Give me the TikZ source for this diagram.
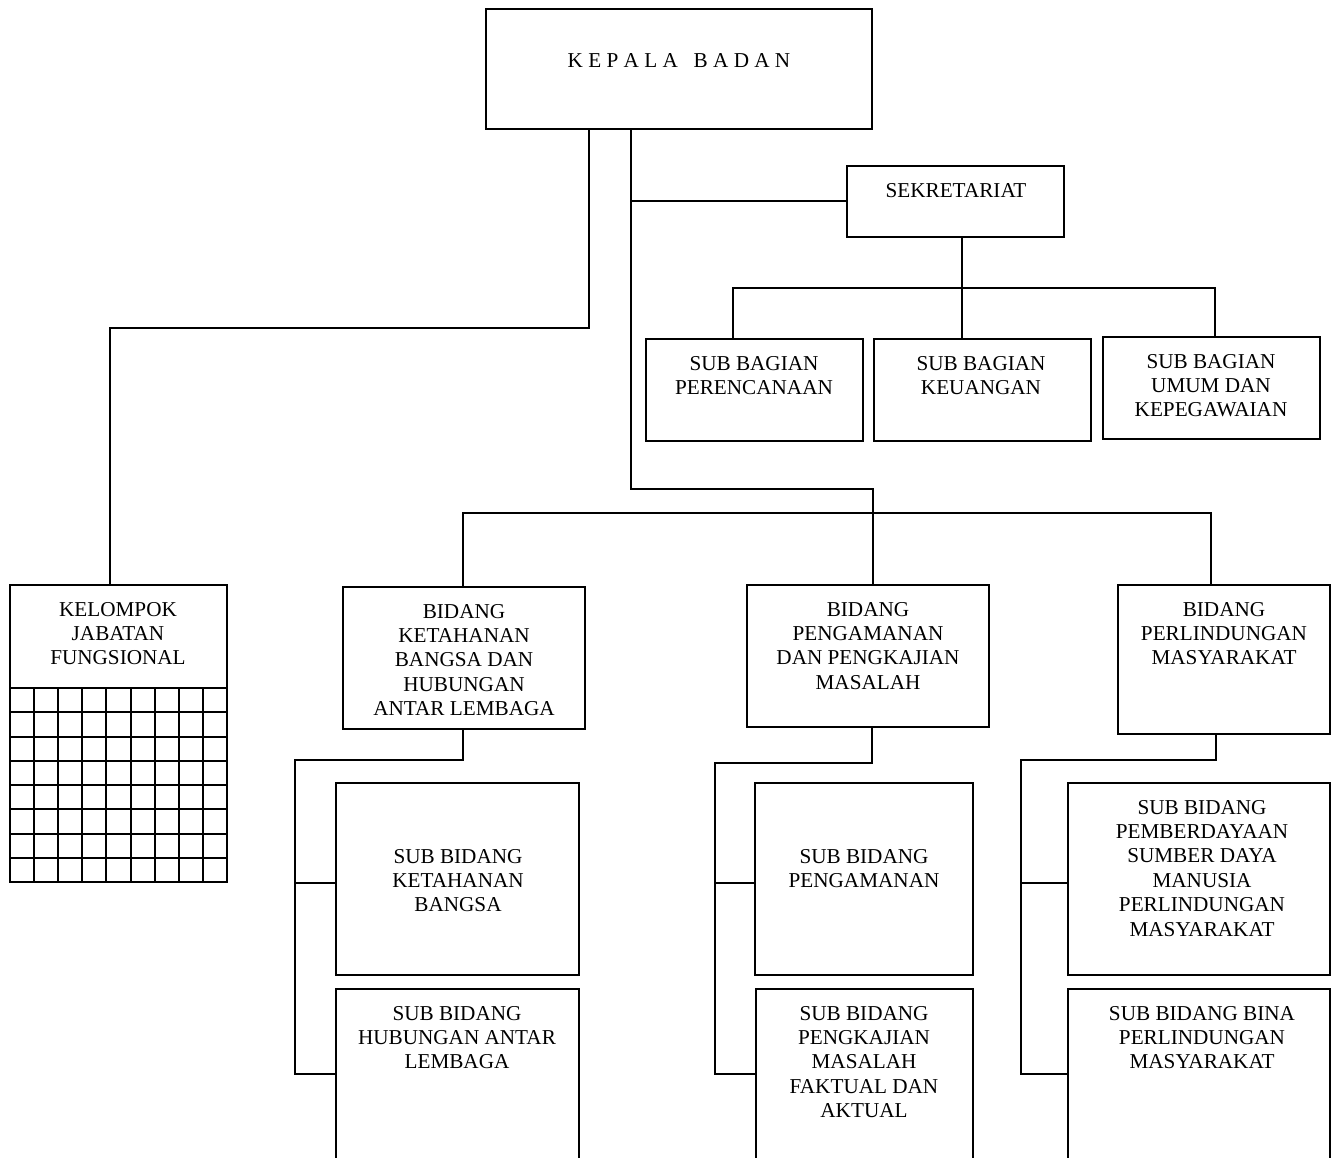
\documentclass[tikz,border=0pt]{standalone}
\usepackage{fontspec}
\setmainfont{Liberation Serif}
\usetikzlibrary{fit}
\begin{document}
\begin{tikzpicture}[
  x=0.5pt, y=-0.5pt,
  line width=1pt,
  box/.style={
    draw, rectangle, inner sep=0pt
  },
  txt/.style={
    anchor=north, align=center, inner sep=0pt,
    font=\fontsize{10.6}{12.2}\selectfont
  }
  ]
  \useasboundingbox (0,0) rectangle (1337,1157);
  \clip (0,0) rectangle (1337,1157);
  \node[box, fit={(486,9) (872,129)}] (kb) {};
  \node[txt] (kbt) at (679,53) {K E P A L A\ \ \ B A D A N};
  \node[box, fit={(847,166) (1064,237)}] (sk) {};
  \node[txt] (skt) at (956,182) {SEKRETARIAT};
  \node[box, fit={(646,339) (863,441)}] (sp) {};
  \node[txt] (spt) at (754,355) {SUB BAGIAN\\PERENCANAAN};
  \node[box, fit={(874,339) (1091,441)}] (su) {};
  \node[txt] (sut) at (981,355) {SUB BAGIAN\\KEUANGAN};
  \node[box, fit={(1103,337) (1320,439)}] (sg) {};
  \node[txt] (sgt) at (1211,353) {SUB BAGIAN\\UMUM DAN\\KEPEGAWAIAN};
  \node[box, fit={(10,585) (227,882)}] (kf) {};
  \node[txt] (kft) at (118,601) {KELOMPOK\\JABATAN\\FUNGSIONAL};
  \foreach \i in {0,...,7} \draw (10,688+\i*24.25) -- (227,688+\i*24.25);
  \foreach \j in {1,...,8} \draw (10+\j*24.11,688) -- (10+\j*24.11,882);
  \node[box, fit={(343,587) (585,729)}] (bk) {};
  \node[txt] (bkt) at (464,603) {BIDANG\\KETAHANAN\\BANGSA DAN\\HUBUNGAN\\ANTAR LEMBAGA};
  \node[box, fit={(747,585) (989,727)}] (bp) {};
  \node[txt] (bpt) at (868,601) {BIDANG\\PENGAMANAN\\DAN PENGKAJIAN\\MASALAH};
  \node[box, fit={(1118,585) (1330,734)}] (bl) {};
  \node[txt] (blt) at (1224,601) {BIDANG\\PERLINDUNGAN\\MASYARAKAT};
  \node[box, fit={(336,783) (579,975)}] (skb) {};
  \node[txt] (skbt) at (458,848) {SUB BIDANG\\KETAHANAN\\BANGSA};
  \node[box, fit={(336,989) (579,1180)}] (shl) {};
  \node[txt] (shlt) at (457,1005) {SUB BIDANG\\HUBUNGAN ANTAR\\LEMBAGA};
  \node[box, fit={(755,783) (973,975)}] (spg) {};
  \node[txt] (spgt) at (864,848) {SUB BIDANG\\PENGAMANAN};
  \node[box, fit={(756,989) (973,1180)}] (spk) {};
  \node[txt] (spkt) at (864,1005) {SUB BIDANG\\PENGKAJIAN\\MASALAH\\FAKTUAL DAN\\AKTUAL};
  \node[box, fit={(1068,783) (1330,975)}] (sbm) {};
  \node[txt] (sbmt) at (1202,799) {SUB BIDANG\\PEMBERDAYAAN\\SUMBER DAYA\\MANUSIA\\PERLINDUNGAN\\MASYARAKAT};
  \node[box, fit={(1068,989) (1330,1180)}] (sbb) {};
  \node[txt] (sbbt) at (1202,1005) {SUB BIDANG BINA\\PERLINDUNGAN\\MASYARAKAT};
  % connectors
  \coordinate (a1) at (589,328);
  \coordinate (a2) at (631,489);
  \coordinate (a3) at (631,201);
  \draw (589,0 |- kb.south) -- (a1) -| (110,0 |- kf.north);
  \draw (631,0 |- kb.south) -- (a2) -| (873,0 |- bp.north);
  \draw (a3) -- (a3 -| sk.west);
  \coordinate (c1) at (733,288);
  \coordinate (c2) at (1215,288);
  \draw (c1 |- sp.north) -- (c1) -- (c2) -- (c2 |- sg.north);
  \draw (962,0 |- sk.south) -- (962,0 |- su.north);
  \coordinate (b1) at (463,513);
  \coordinate (b2) at (1211,513);
  \draw (b1 |- bk.north) -- (b1) -- (b2) -- (b2 |- bl.north);
  \coordinate (d1) at (295,760);
  \coordinate (d2) at (295,1074);
  \coordinate (d3) at (295,883);
  \draw (463,0 |- bk.south) |- (d1) -- (d2) -- (d2 -| shl.west);
  \draw (d3) -- (d3 -| skb.west);
  \coordinate (e1) at (715,763);
  \coordinate (e2) at (715,1074);
  \coordinate (e3) at (715,883);
  \draw (872,0 |- bp.south) |- (e1) -- (e2) -- (e2 -| spk.west);
  \draw (e3) -- (e3 -| spg.west);
  \coordinate (f1) at (1021,760);
  \coordinate (f2) at (1021,1074);
  \coordinate (f3) at (1021,883);
  \draw (1216,0 |- bl.south) |- (f1) -- (f2) -- (f2 -| sbb.west);
  \draw (f3) -- (f3 -| sbm.west);
\end{tikzpicture}
\end{document}
